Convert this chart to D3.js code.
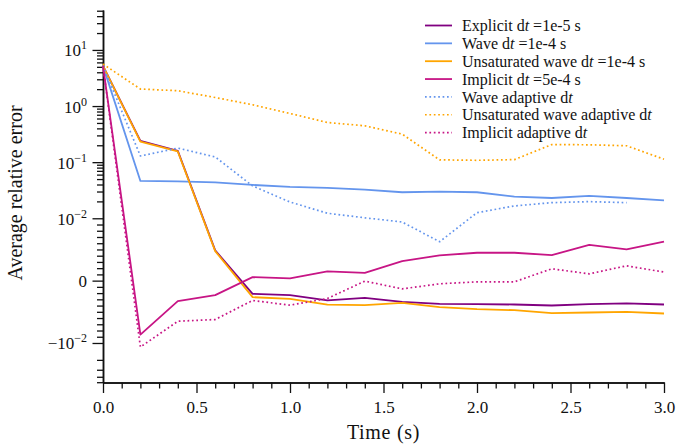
<!DOCTYPE html>
<html>
<head>
<meta charset="utf-8">
<script src="https://cdn.jsdelivr.net/npm/d3@7/dist/d3.min.js"></script>
<style>
  body { margin: 0; background: #fff; }
  svg { display: block; }
  text { font-family: "Liberation Serif", "DejaVu Serif", serif; fill: #111; }
</style>
</head>
<body>
<svg id="chart" width="678" height="445"></svg>
<script>
'use strict';

// sample times (s)
var times = [0, 0.2, 0.4, 0.6, 0.8, 1.0, 1.2, 1.4, 1.6, 1.8, 2.0, 2.2, 2.4, 2.6, 2.8, 3.0];
var timesAdaptWave = times.slice(0, 15);

var explicitErr = [5.2, 0.24, 0.159, 0.00485, -0.00212, -0.00233, -0.00318, -0.00276, -0.00341, -0.00373, -0.00378, -0.00383, -0.00399, -0.00378, -0.00366, -0.00383];
var waveErr = [5.2, 0.0463, 0.0454, 0.0436, 0.0393, 0.0362, 0.0348, 0.0324, 0.0291, 0.0299, 0.0291, 0.0243, 0.0230, 0.0250, 0.0230, 0.0209];
var unsatErr = [5.2, 0.233, 0.155, 0.00474, -0.00265, -0.00293, -0.00386, -0.00394, -0.00357, -0.00426, -0.00458, -0.00474, -0.00522, -0.00511, -0.00501, -0.00527];
var implicitErr = [5.2, -0.00865, -0.00329, -0.00233, 0.00056, 0.00035, 0.00148, 0.00125, 0.00313, 0.00405, 0.00447, 0.00447, 0.0041, 0.00575, 0.00501, 0.00624];
var waveAdaptErr = [5.2, 0.129, 0.178, 0.124, 0.0377, 0.0195, 0.0123, 0.0102, 0.0094, 0.00624, 0.0126, 0.0166, 0.0190, 0.0198, 0.0190];
var unsatAdaptErr = [5.6, 2.01, 1.876, 1.42, 1.055, 0.738, 0.509, 0.445, 0.316, 0.110, 0.108, 0.111, 0.206, 0.204, 0.196, 0.113];
var implicitAdaptErr = [5.2, -0.0118, -0.00651, -0.00624, -0.00318, -0.00394, -0.00286, -0.00008, -0.00132, -0.00051, -0.00019, -0.00019, 0.0019, 0.00109, 0.00238, 0.00137];

var xMajorTicks = [0, 0.5, 1.0, 1.5, 2.0, 2.5, 3.0];
var yMajorTicks = [10, 1, 0.1, 0.01, 0, -0.01];

var series = [
  { label: ['Explicit d', 't', ' =1e-5 s'], t: times, v: explicitErr, color: '#800080', dotted: false },
  { label: ['Wave d', 't', ' =1e-4 s'], t: times, v: waveErr, color: '#6495ed', dotted: false },
  { label: ['Unsaturated wave d', 't', ' =1e-4 s'], t: times, v: unsatErr, color: '#ffa500', dotted: false },
  { label: ['Implicit d', 't', ' =5e-4 s'], t: times, v: implicitErr, color: '#c71585', dotted: false },
  { label: ['Wave adaptive d', 't', ''], t: timesAdaptWave, v: waveAdaptErr, color: '#6495ed', dotted: true },
  { label: ['Unsaturated wave adaptive d', 't', ''], t: times, v: unsatAdaptErr, color: '#ffa500', dotted: true },
  { label: ['Implicit adaptive d', 't', ''], t: times, v: implicitAdaptErr, color: '#c71585', dotted: true }
];

// matplotlib-style symlog (linthresh 1e-2, linscale 1)
var linthresh = 0.01;
var linscaleAdj = 1 / (1 - 1 / 10);
var symT = function (v) {
  var a = Math.abs(v);
  if (a <= linthresh) return v / linthresh * linscaleAdj;
  return Math.sign(v) * (linscaleAdj + Math.log10(a / linthresh));
};

var makeSymlog = function (domain, range) {
  var lin = d3.scaleLinear().domain(domain.map(symT)).range(range);
  var s = function (v) { return lin(symT(v)); };
  s.range = function () { return lin.range(); };
  s.copy = function () { return makeSymlog(domain, range); };
  return s;
};

var plotLeft = 103, plotRight = 664, plotTop = 10, plotBottom = 382.5;
var x = d3.scaleLinear().domain([0, 3]).range([plotLeft, plotRight]);
var y = makeSymlog([-0.0506, 51.5], [plotBottom, plotTop]);

var svg = d3.select('#chart');

// minor tick positions
var yMinor = [];
[-0.01, 0.01, 0.1, 1, 10].forEach(function (dec) {
  for (var m = 2; m <= 9; m++) {
    var v = dec * m;
    if (Math.abs(v) > 0.0506 && dec < 0) continue;
    if (v > 51.5) continue;
    yMinor.push(v);
  }
});
for (var k = 1; k <= 9; k++) { yMinor.push(k * 0.001); yMinor.push(-k * 0.001); }
var xMinor = d3.range(0, 31).map(function (i) { return i / 10; })
  .filter(function (v) { return Math.round(v * 10) % 5 !== 0; });

var styleAxis = function (g) {
  g.select('.domain').attr('stroke', '#111').attr('stroke-width', 1.5);
  g.selectAll('.tick line').attr('stroke', '#111').attr('stroke-width', 1.3);
};

svg.append('g')
  .attr('transform', 'translate(0,' + plotBottom + ')')
  .call(d3.axisBottom(x).tickValues(xMinor).tickSize(6).tickSizeOuter(0).tickFormat(''))
  .call(styleAxis);

var xAxis = svg.append('g')
  .attr('transform', 'translate(0,' + plotBottom + ')')
  .call(d3.axisBottom(x).tickValues(xMajorTicks).tickSize(10.5).tickSizeOuter(0).tickPadding(8)
    .tickFormat(d3.format('.1f')))
  .call(styleAxis);
xAxis.selectAll('text').attr('font-size', 17).attr('font-family', null).attr('fill', '#111');

svg.append('g')
  .attr('transform', 'translate(' + plotLeft + ',0)')
  .call(d3.axisLeft(y).tickValues(yMinor).tickSize(6).tickSizeOuter(0).tickFormat(''))
  .call(styleAxis);

var yAxis = svg.append('g')
  .attr('transform', 'translate(' + plotLeft + ',0)')
  .call(d3.axisLeft(y).tickValues(yMajorTicks).tickSize(10.5).tickSizeOuter(0).tickFormat(''))
  .call(styleAxis);

yAxis.selectAll('.tick').each(function (d) {
  var t = d3.select(this).append('text')
    .attr('x', -16).attr('dy', '0.35em')
    .attr('text-anchor', 'end').attr('font-size', 17).attr('fill', '#111');
  if (d === 0) { t.text('0'); return; }
  var e = Math.round(Math.log10(Math.abs(d)));
  t.append('tspan').text((d < 0 ? '\u2212' : '') + '10');
  t.append('tspan').attr('dy', -7).attr('font-size', 12)
    .text(e < 0 ? '\u2212' + (-e) : String(e));
});

// axis labels
svg.append('text')
  .attr('x', (plotLeft + plotRight) / 2).attr('y', 439)
  .attr('text-anchor', 'middle').attr('font-size', 20)
  .attr('letter-spacing', 0.7)
  .text('Time (s)');

svg.append('text')
  .attr('transform', 'translate(22,' + 193 + ') rotate(-90)')
  .attr('text-anchor', 'middle').attr('font-size', 20)
  .text('Average relative error');

// lines
var line = d3.line()
  .x(function (d) { return x(d[0]); })
  .y(function (d) { return y(d[1]); });

series.forEach(function (s) {
  svg.append('path')
    .datum(d3.zip(s.t, s.v))
    .attr('d', line)
    .attr('fill', 'none')
    .attr('stroke', s.color)
    .attr('stroke-width', s.dotted ? 1.7 : 1.8)
    .attr('stroke-dasharray', s.dotted ? '1.7,2.7' : null)
    .attr('stroke-linejoin', 'round');
});

// legend
var legend = svg.append('g').attr('transform', 'translate(425,25.5)');
series.forEach(function (s, i) {
  var row = legend.append('g').attr('transform', 'translate(0,' + (i * 17.85) + ')');
  row.append('line')
    .attr('x1', 0).attr('x2', 27).attr('y1', 0).attr('y2', 0)
    .attr('stroke', s.color)
    .attr('stroke-width', s.dotted ? 1.7 : 1.8)
    .attr('stroke-dasharray', s.dotted ? '1.7,2.7' : null);
  var t = row.append('text').attr('x', 37).attr('dy', '0.35em').attr('font-size', 16).attr('fill', '#333');
  t.append('tspan').text(s.label[0]);
  t.append('tspan').attr('font-style', 'italic').text(s.label[1]);
  if (s.label[2]) t.append('tspan').text(s.label[2]);
});
</script>
</body>
</html>
